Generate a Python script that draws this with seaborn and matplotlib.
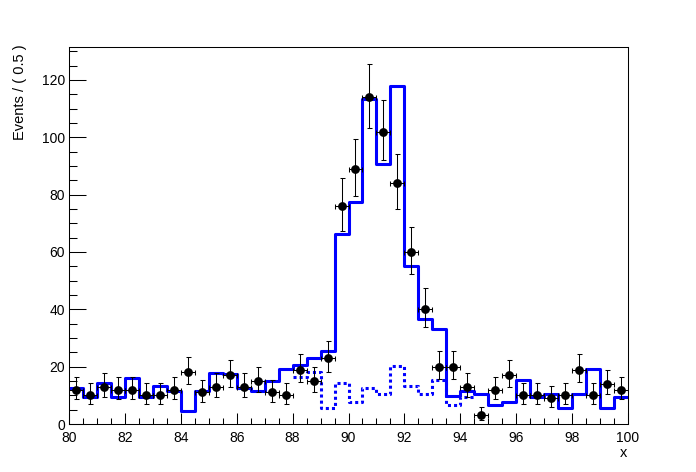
import numpy as np
import pandas as pd
import matplotlib
matplotlib.use("Agg")
import matplotlib.pyplot as plt
import seaborn as sns

# ---- data ----
bin_width = 0.5
x_lo, x_hi = 80.0, 100.0
counts = [12, 10, 13, 12, 12, 10, 10, 12, 18, 11,
          13, 17, 13, 15, 11, 10, 19, 15, 23, 76,
          89, 114, 102, 84, 60, 40, 20, 20, 13, 3,
          12, 17, 10, 10, 9, 10, 19, 10, 14, 12]
total_hist = [12.4, 9.5, 14.2, 9.5, 16.2, 9.5, 13.3, 11.6, 4.7, 11.5,
              17.9, 17.3, 12.7, 11.5, 15.1, 19.1, 20.6, 23.1, 25.5, 66.2,
              77.3, 113.2, 90.7, 117.9, 55.1, 36.5, 33.0, 9.8, 11.5, 10.5,
              6.6, 7.8, 15.3, 9.3, 10.5, 5.5, 10.5, 19.1, 5.5, 9.3]
bkg_lo = 88.0
bkg_hist = [16.5, 18.0, 5.5, 14.2, 7.8, 12.4, 10.5, 20.2, 13.3, 10.5,
            15.3, 6.6, 9.3]
x_ticks = [80, 82, 84, 86, 88, 90, 92, 94, 96, 98, 100]
y_ticks = [0, 20, 40, 60, 80, 100, 120]
y_max = 131.5

# ---- derived ----
edges = x_lo + bin_width * np.arange(len(counts) + 1)
centers = edges[:-1] + bin_width / 2
bkg_edges = bkg_lo + bin_width * np.arange(len(bkg_hist) + 1)

n = np.array(counts, dtype=float)
# Poisson (Garwood, Wilson-Hilferty approx.) errors
nn = np.maximum(n, 1)
lo = np.where(n > 0, n * (1 - 1 / (9 * nn) - 1 / (3 * np.sqrt(nn))) ** 3, 0)
up = (n + 1) * (1 - 1 / (9 * (n + 1)) + 1 / (3 * np.sqrt(n + 1))) ** 3
err_lo = n - lo
err_hi = up - n

df_pts = pd.DataFrame({"x": centers, "y": n})
df_tot = pd.DataFrame({"x": edges, "y": list(total_hist) + [total_hist[-1]]})
df_bkg = pd.DataFrame({"x": bkg_edges, "y": list(bkg_hist) + [bkg_hist[-1]]})

plt.rcParams["font.family"] = ["Liberation Sans", "DejaVu Sans"]

W, H = 696, 472
fig = plt.figure(figsize=(W / 100, H / 100), dpi=100)
ax = fig.add_axes([69 / W, 1 - 424 / H, (628 - 69) / W, (424 - 47) / H])

blue = (0, 0, 1)
sns.lineplot(data=df_bkg, x="x", y="y", drawstyle="steps-post", color=blue,
             linewidth=2.2, linestyle=(0, (1, 1)), ax=ax, estimator=None, sort=False)
sns.lineplot(data=df_tot, x="x", y="y", drawstyle="steps-post", color=blue,
             linewidth=2.2, ax=ax, estimator=None, sort=False)

ax.errorbar(centers, n, yerr=[err_lo, err_hi], xerr=bin_width / 2, fmt="none",
            ecolor="black", elinewidth=0.75, capsize=1.8, capthick=0.75, zorder=4)
sns.scatterplot(data=df_pts, x="x", y="y", color="black", s=40, marker="o",
                edgecolor="black", linewidth=0, ax=ax, zorder=5)

ax.set_xlim(x_lo, x_hi)
ax.set_ylim(0, y_max)
ax.set_xticks(x_ticks)
ax.set_xticks(np.arange(x_lo, x_hi + 0.01, 0.5), minor=True)
ax.set_yticks(y_ticks)
ax.set_yticks(np.arange(0, y_max, 5), minor=True)
ax.tick_params(axis="x", which="major", direction="in", length=8, width=0.75,
               labelsize=10, pad=5, top=False)
ax.tick_params(axis="x", which="minor", direction="in", length=4, width=0.75, top=False)
ax.tick_params(axis="y", which="major", direction="in", length=12, width=0.75,
               labelsize=10, pad=3, right=False)
ax.tick_params(axis="y", which="minor", direction="in", length=6, width=0.75, right=False)
for s in ax.spines.values():
    s.set_linewidth(0.75)
    s.set_color("black")

ax.set_xlabel("")
ax.set_ylabel("")
fig.text(627 / W, 1 - 457 / H, "x", ha="right", va="baseline", fontsize=10.5)
fig.text(20 / W, 1 - 44 / H, "Events / ( 0.5 )", rotation=90, ha="center", va="top",
         fontsize=10.5)

fig.savefig("out.png", dpi=100, facecolor="white")
